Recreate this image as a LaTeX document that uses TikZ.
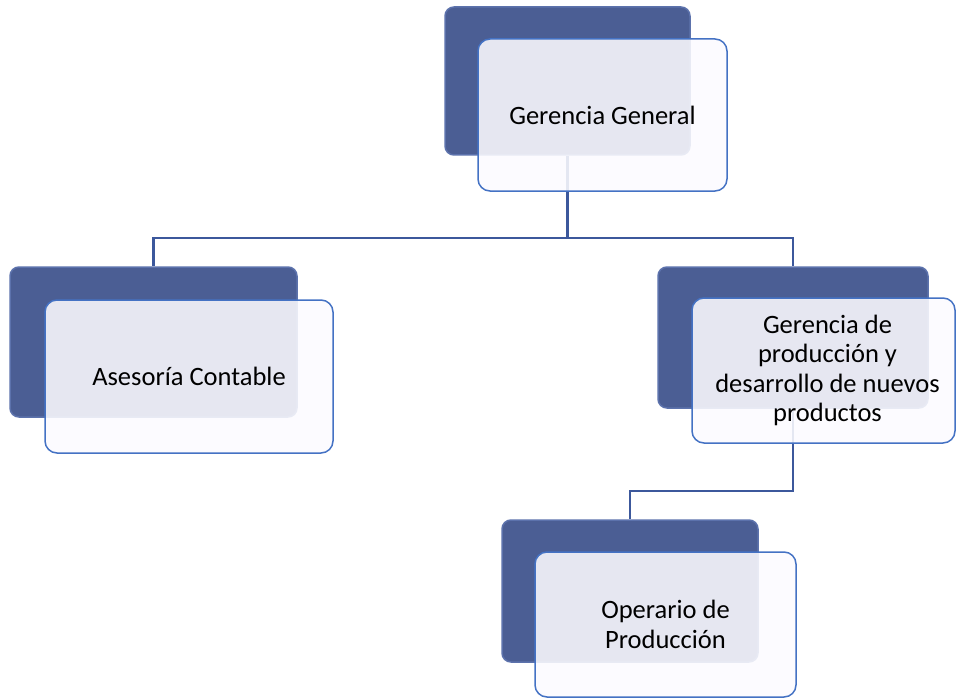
\documentclass[tikz,border=0pt]{standalone}
\usepackage{fontspec}
\setmainfont{Carlito}
\definecolor{darkbox}{RGB}{75,94,148}
\definecolor{darkedge}{RGB}{92,114,172}
\definecolor{frontfill}{RGB}{252,251,255}
\definecolor{frontedge}{RGB}{68,114,196}
\definecolor{linkcol}{RGB}{60,88,156}
\pgfdeclarelayer{bg}
\pgfsetlayers{bg,main}
\begin{document}
\begin{tikzpicture}[x=1pt,y=-1pt,
  backbox/.style={rectangle, rounded corners=9pt, fill=darkbox, draw=darkedge, line width=1.5pt, inner sep=0pt},
  frontbox/.style={rectangle, rounded corners=12pt, fill=frontfill, fill opacity=0.88, text opacity=1, draw=frontedge, line width=1.5pt, align=center, inner sep=0pt, font=\fontsize{26.5}{29.5}\selectfont},
  link/.style={draw=linkcol, line width=2.2pt}]
\useasboundingbox (0,0) rectangle (956,698);
% back boxes
\node[backbox, minimum width=245pt, minimum height=148pt] (d1) at (567.5,81) {};
\node[backbox, minimum width=287pt, minimum height=150pt] (d2) at (153.5,342) {};
\node[backbox, minimum width=270pt, minimum height=141pt] (d3) at (793,337.5) {};
\node[backbox, minimum width=256pt, minimum height=142pt] (d4) at (630,591) {};
% connectors
\begin{pgfonlayer}{bg}
\draw[link] (d1.south) -- ++(0,82) -| (d2.north);
\draw[link] (d1.south) -- ++(0,82) -| (d3.north);
\draw[link] (d3.south) -- ++(0,82) -| (d4.north);
\end{pgfonlayer}
% front boxes
\node[frontbox, minimum width=249pt, minimum height=152pt] (f1) at (602.5,115) {Gerencia General};
\node[frontbox, minimum width=288pt, minimum height=153pt] (f2) at (189,376.5) {Asesoría Contable};
\node[frontbox, minimum width=263pt, minimum height=145pt] (f3) at (823.5,370.5) {\hspace*{8pt}Gerencia de\\\hspace*{8pt}producción y\\\hspace*{8pt}desarrollo de nuevos\\\hspace*{8pt}productos};
\node[frontbox, minimum width=261pt, minimum height=145pt] (f4) at (665.5,624.5) {Operario de\\Producción};
\end{tikzpicture}
\end{document}
